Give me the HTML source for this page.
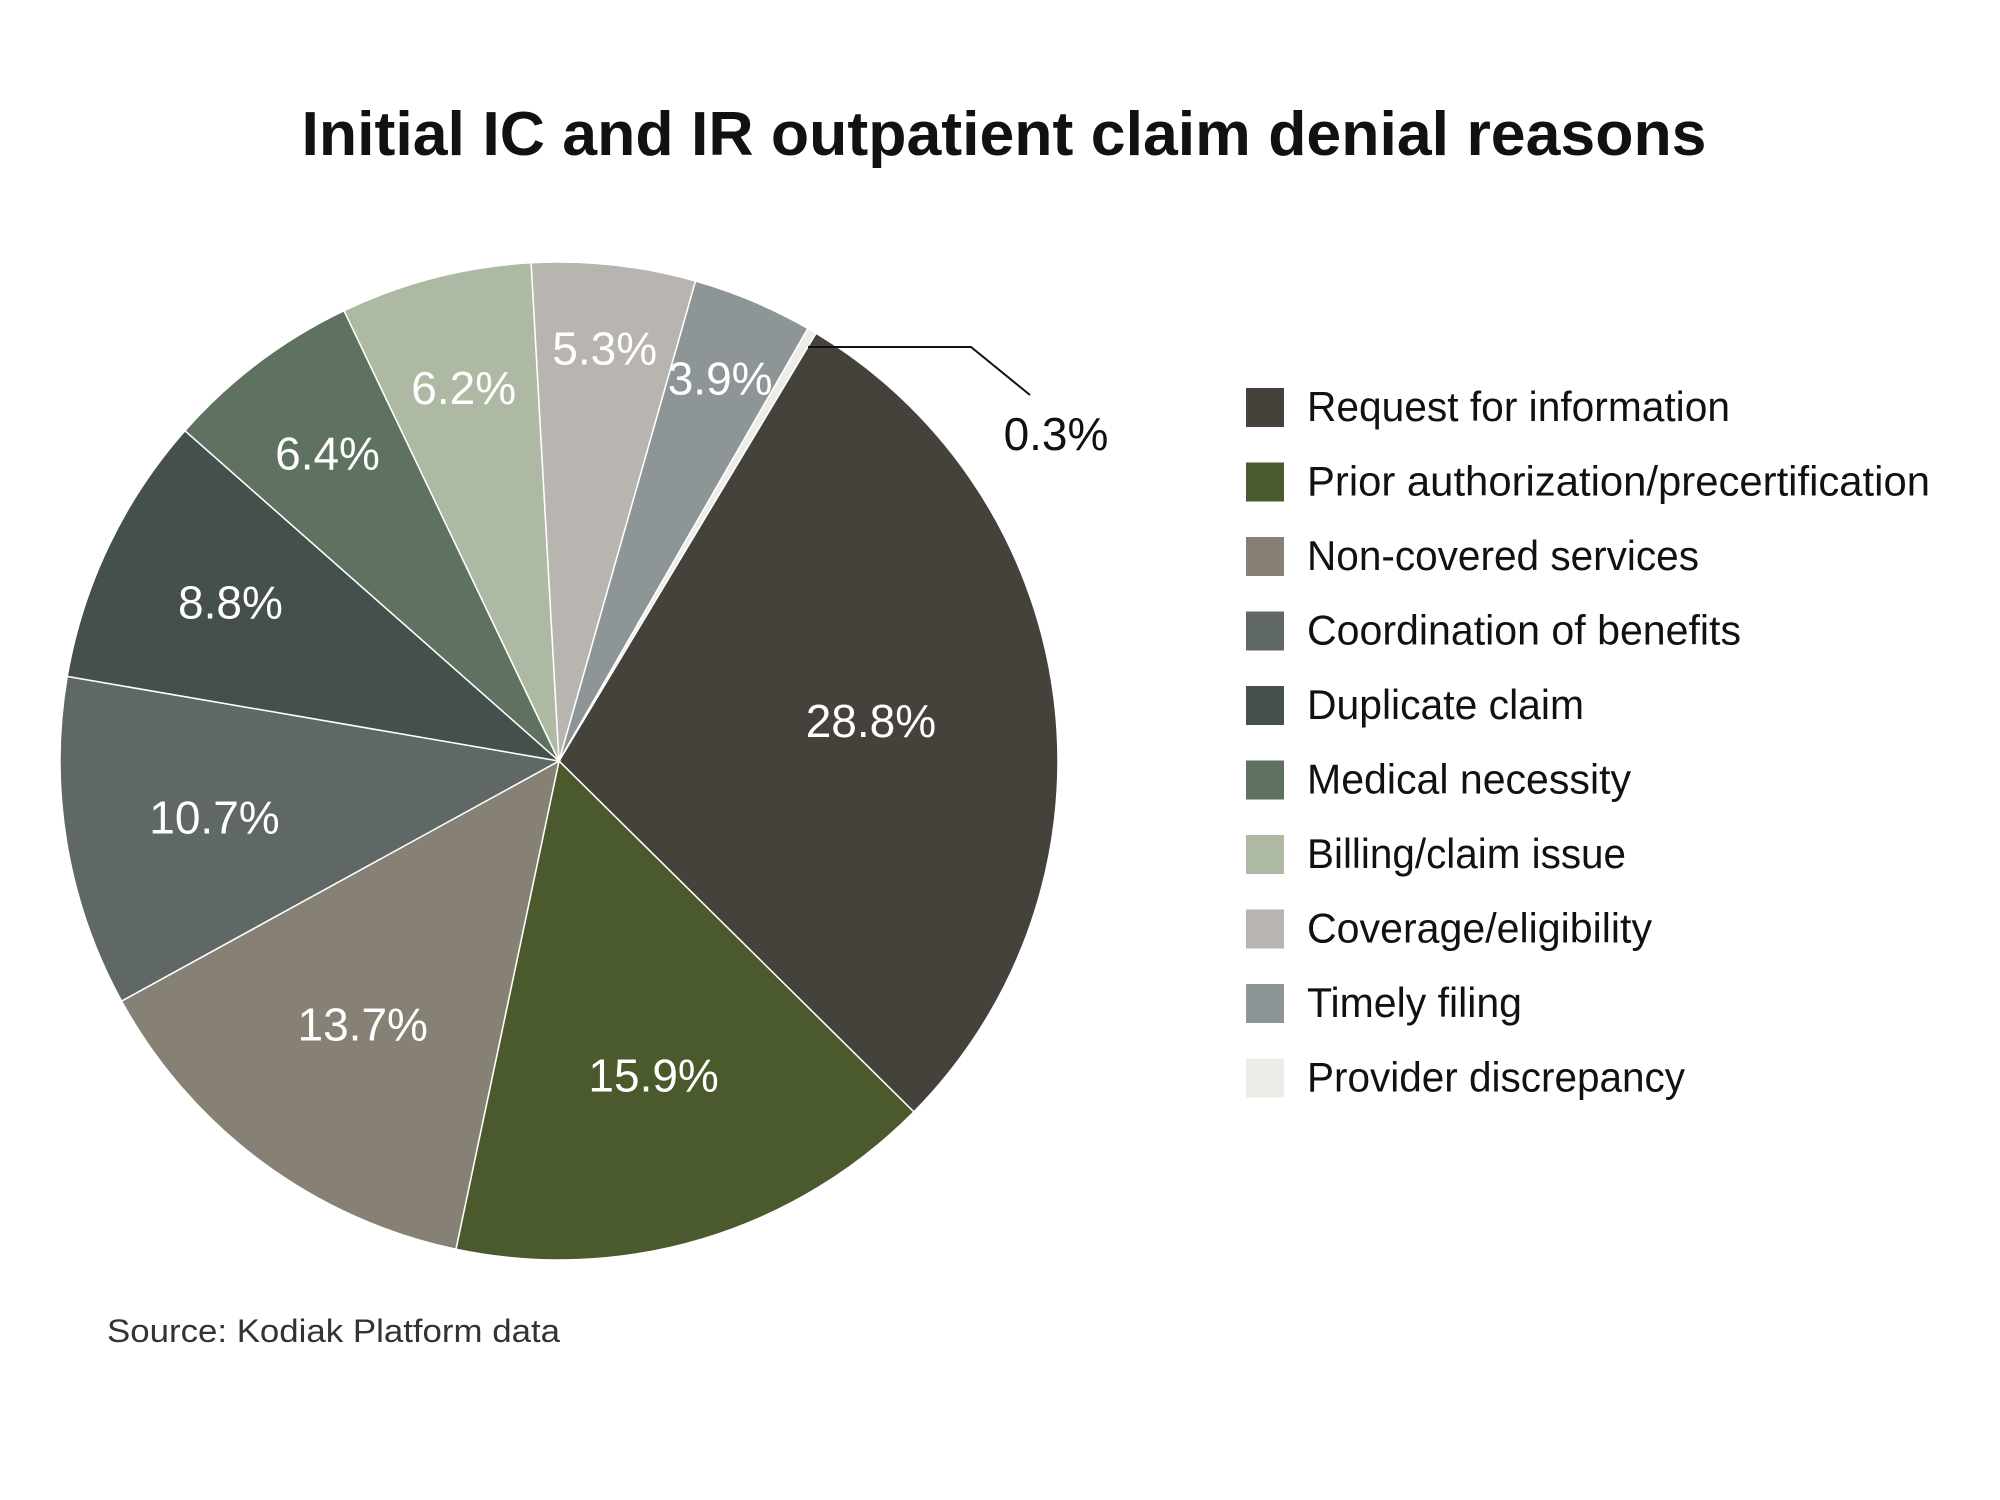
<!DOCTYPE html>
<html><head><meta charset="utf-8"><style>
html,body{margin:0;padding:0;background:#fff;}
svg{display:block;}
text{font-family:"Liberation Sans Narrow","Liberation Sans",sans-serif;}
</style></head><body>
<svg id="chart" width="2000" height="1500" viewBox="0 0 2000 1500" xmlns="http://www.w3.org/2000/svg">
<rect width="2000" height="1500" fill="#fff"/>
<text x="1004" y="155" text-anchor="middle" font-size="62" font-weight="bold" fill="#111" textLength="1405" lengthAdjust="spacingAndGlyphs">Initial IC and IR outpatient claim denial reasons</text>
<g id="slices"></g>
<g id="labels"></g>
<g id="legend"></g>
<polyline points="808,347 971,347 1030,395" fill="none" stroke="#111" stroke-width="2"/>
<text x="107" y="1342" font-size="32" fill="#333" font-family="Liberation Sans, sans-serif" textLength="453" lengthAdjust="spacingAndGlyphs">Source: Kodiak Platform data</text>
</svg>
<script>
const categories = ["Request for information","Prior authorization/precertification","Non-covered services","Coordination of benefits","Duplicate claim","Medical necessity","Billing/claim issue","Coverage/eligibility","Timely filing","Provider discrepancy"];
const values = [28.8,15.9,13.7,10.7,8.8,6.4,6.2,5.3,3.9,0.3];
const valueLabels = ["28.8%","15.9%","13.7%","10.7%","8.8%","6.4%","6.2%","5.3%","3.9%","0.3%"];
const colors = ["#45423c","#4a5a2c","#878075","#5f6866","#454f4c","#5f7262","#adb9a2","#b8b5b0","#8e9597","#ecede8"];
const legendWidths = [423,623,392,434,277,324,319,345,215,378];

const NS = "http://www.w3.org/2000/svg";
const cx = 559, cy = 761, R = 499, startDeg = 31;
const total = values.reduce((a,b)=>a+b,0);
function pt(deg, r){ const a = deg*Math.PI/180; return [cx + r*Math.sin(a), cy - r*Math.cos(a)]; }
function labelFrac(p){ return p>=20?0.63:p>=13?0.66:p>=10?0.70:p>=8?0.73:p>=6?0.77:0.83; }

const gS = document.getElementById('slices'), gL = document.getElementById('labels'), gG = document.getElementById('legend');
let ang = startDeg;
values.forEach((v,i)=>{
  const span = v/total*360;
  const a0 = ang, a1 = ang+span;
  const p0 = pt(a0,R), p1 = pt(a1,R);
  const large = span>180?1:0;
  const path = document.createElementNS(NS,'path');
  path.setAttribute('d',`M${cx},${cy} L${p0[0]},${p0[1]} A${R},${R} 0 ${large} 1 ${p1[0]},${p1[1]} Z`);
  path.setAttribute('fill',colors[i]);
  path.setAttribute('stroke','#fff');
  path.setAttribute('stroke-width','1.5');
  
  
  gS.appendChild(path);
  if (v >= 1) {
    const lp = pt((a0+a1)/2, R*labelFrac(v));
    const t = document.createElementNS(NS,'text');
    t.setAttribute('x',lp[0]); t.setAttribute('y',lp[1]+15);
    t.setAttribute('text-anchor','middle'); t.setAttribute('font-size','46'); t.setAttribute('fill','#fff');
    t.textContent = valueLabels[i];
    
    
    gL.appendChild(t);
  } else {
    const t = document.createElementNS(NS,'text');
    t.setAttribute('x',1056); t.setAttribute('y',450);
    t.setAttribute('text-anchor','middle'); t.setAttribute('font-size','46'); t.setAttribute('fill','#111');
    t.textContent = valueLabels[i];
    
    
    gL.appendChild(t);
  }
  ang = a1;
});

categories.forEach((c,i)=>{
  const y = 407 + i*74.5;
  const g = document.createElementNS(NS,'g');
  
  
  const r = document.createElementNS(NS,'rect');
  r.setAttribute('x',1246); r.setAttribute('y',y-19); r.setAttribute('width',38); r.setAttribute('height',39);
  r.setAttribute('fill',colors[i]);
  
  
  const t = document.createElementNS(NS,'text');
  t.setAttribute('x',1307); t.setAttribute('y',y+14);
  t.setAttribute('font-size','42'); t.setAttribute('fill','#111');
  t.setAttribute('textLength',legendWidths[i]); t.setAttribute('lengthAdjust','spacingAndGlyphs');
  t.textContent = c;
  
  
  g.appendChild(r); g.appendChild(t); gG.appendChild(g);
});
</script>
</body></html>
